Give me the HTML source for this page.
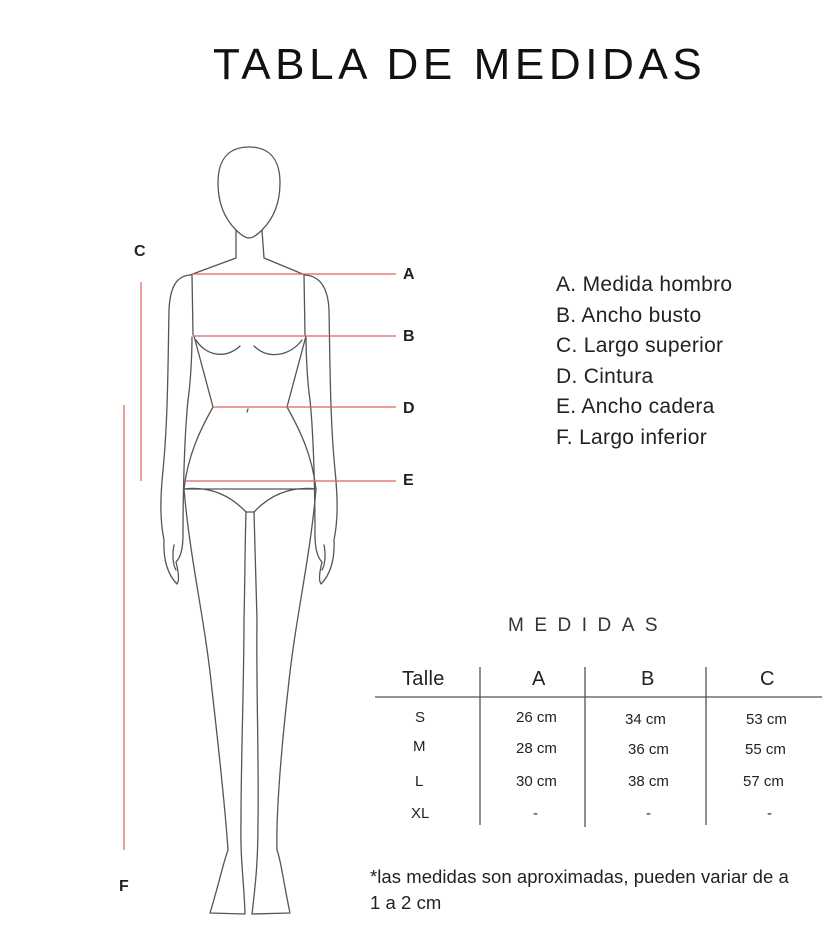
<!DOCTYPE html>
<html><head><meta charset="utf-8"><style>
html,body{margin:0;padding:0;background:#fff;}
body{width:834px;height:932px;position:relative;overflow:hidden;font-family:"Liberation Sans",sans-serif;color:#222;}
.t{position:absolute;white-space:nowrap;}
</style></head><body>
<svg width="834" height="932" style="position:absolute;left:0;top:0" xmlns="http://www.w3.org/2000/svg">
<g fill="none" stroke="#555" stroke-width="1.3" stroke-linejoin="round" stroke-linecap="round">
<path d="M249,147 C228,147 218,160 218,183 C218,203 224,218 236,230 C242,236 246,238 249,238 C252,238 256,236 262,230 C274,218 280,203 280,183 C280,160 270,147 249,147 Z"/>
<path d="M236,230 L236,258 L190,275"/>
<path d="M262,230 L264,258 L305,275"/>
<path d="M190,275 C176,276 170,288 169,310 C168,360 168,420 163,470 C160,500 160,520 164,540 C163,560 168,575 177,584 C180,580 178,570 176,562 C182,556 183,545 183,535 C183,500 184,440 188,400 C191,380 192,350 192,337"/>
<path d="M192,275 L193,335"/>
<path d="M174,545 C172,555 173,565 176,570"/>
<path d="M305,275 C320,276 328,288 329,310 C330,360 330,420 335,470 C338,500 338,520 334,540 C335,560 330,575 321,584 C318,580 320,570 322,562 C316,556 315,545 315,535 C315,500 314,440 310,400 C307,380 306,350 306,337"/>
<path d="M304,275 L305,335"/>
<path d="M324,545 C326,555 325,565 322,570"/>
<path d="M194,336 L213,407 C200,430 188,455 184,489"/>
<path d="M306,336 L287,407 C300,430 312,455 316,489"/>
<path d="M196,340 C205,355 225,360 240,346"/>
<path d="M254,346 C268,360 290,356 302,340"/>
<path d="M248,409 L247,412"/>
<path d="M184,489 C210,486 230,495 246,512 L254,512 C270,495 290,486 316,489 Z"/>
<path d="M184,489 C190,560 205,620 212,690 C220,760 226,820 228,850 C224,860 220,880 210,913 L245,914 C244,880 240,860 241,820 C241,760 244,680 244,620 C245,580 245,540 246,512"/>
<path d="M316,489 C310,560 295,620 288,690 C280,760 276,820 277,850 C281,860 283,880 290,913 L252,914 C256,880 258,860 258,820 C259,760 256,680 257,620 C256,580 255,540 254,512"/>
</g>
<g stroke="#e06060" stroke-width="1.2">
<line x1="192" y1="274" x2="396" y2="274"/>
<line x1="194" y1="336" x2="396" y2="336"/>
<line x1="213" y1="407" x2="396" y2="407"/>
<line x1="185" y1="481" x2="396" y2="481"/>
<line x1="141" y1="282" x2="141" y2="481"/>
<line x1="124" y1="405" x2="124" y2="850"/>
</g>
<g stroke="#555" stroke-width="1.3">
<line x1="375" y1="697" x2="822" y2="697"/>
<line x1="480" y1="667" x2="480" y2="825"/>
<line x1="585" y1="667" x2="585" y2="827"/>
<line x1="706" y1="667" x2="706" y2="825"/>
</g>
</svg>
<div class="t" style="left:213px;top:40px;font-size:44px;letter-spacing:4.6px;color:#111;">TABLA DE MEDIDAS</div>
<div class="t" style="left:134px;top:243px;font-size:16px;font-weight:bold;">C</div>
<div class="t" style="left:403px;top:266px;font-size:16px;font-weight:bold;">A</div>
<div class="t" style="left:403px;top:328px;font-size:16px;font-weight:bold;">B</div>
<div class="t" style="left:403px;top:400px;font-size:16px;font-weight:bold;">D</div>
<div class="t" style="left:403px;top:472px;font-size:16px;font-weight:bold;">E</div>
<div class="t" style="left:119px;top:878px;font-size:16px;font-weight:bold;">F</div>
<div class="t" style="left:556px;top:270px;font-size:21px;letter-spacing:0.3px;line-height:30.6px;">A. Medida hombro<br>B. Ancho busto<br>C. Largo superior<br>D. Cintura<br>E. Ancho cadera<br>F. Largo inferior</div>
<div class="t" style="left:508px;top:615px;font-size:19px;letter-spacing:10.5px;color:#333;">MEDIDAS</div>
<div class="t" style="left:402px;top:668px;font-size:20px;letter-spacing:0.3px;">Talle</div>
<div class="t" style="left:532px;top:668px;font-size:20px;">A</div>
<div class="t" style="left:641px;top:668px;font-size:20px;">B</div>
<div class="t" style="left:760px;top:668px;font-size:20px;">C</div>
<div style="position:absolute;left:0;top:0;font-size:15px;">
<div class="t" style="left:415px;top:709px;">S</div>
<div class="t" style="left:413px;top:738px;">M</div>
<div class="t" style="left:415px;top:773px;">L</div>
<div class="t" style="left:411px;top:805px;">XL</div>
<div class="t" style="left:516px;top:709px;">26 cm</div>
<div class="t" style="left:516px;top:740px;">28 cm</div>
<div class="t" style="left:516px;top:773px;">30 cm</div>
<div class="t" style="left:533px;top:805px;">-</div>
<div class="t" style="left:625px;top:711px;">34 cm</div>
<div class="t" style="left:628px;top:741px;">36 cm</div>
<div class="t" style="left:628px;top:773px;">38 cm</div>
<div class="t" style="left:646px;top:805px;">-</div>
<div class="t" style="left:746px;top:711px;">53 cm</div>
<div class="t" style="left:745px;top:741px;">55 cm</div>
<div class="t" style="left:743px;top:773px;">57 cm</div>
<div class="t" style="left:767px;top:805px;">-</div>
</div>
<div class="t" style="left:370px;top:864px;font-size:18.5px;letter-spacing:0.05px;line-height:26px;">*las medidas son aproximadas, pueden variar de a<br>1 a 2 cm</div>
</body></html>
